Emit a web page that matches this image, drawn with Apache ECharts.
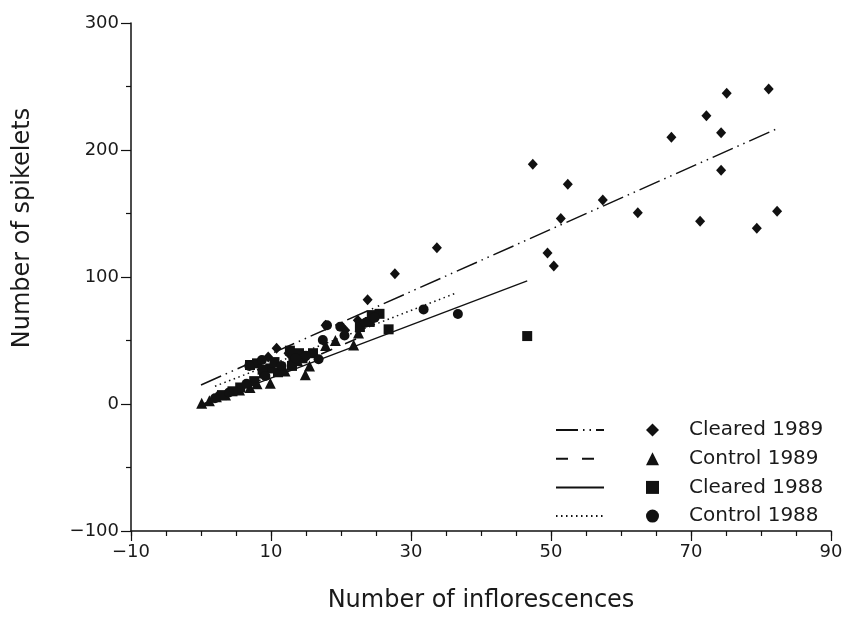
<!DOCTYPE html>
<html>
<head>
<meta charset="utf-8">
<script src="https://cdn.jsdelivr.net/npm/echarts@6/dist/echarts.min.js"></script>
<style>
  html, body { margin: 0; padding: 0; background: #fff; }
  #chart { width: 847px; height: 619px; }
</style>
</head>
<body>
<div id="chart"></div>
<script>
// Spikelets vs inflorescences, two treatments over two seasons
const cleared1989 = [
  [81.1, 248], [75.1, 244.6], [72.2, 227], [74.3, 213.6], [67.2, 210], [74.3, 184],
  [47.4, 188.7], [52.4, 173], [57.4, 160.6], [51.4, 146], [62.4, 150.6], [71.3, 143.8],
  [82.3, 151.7], [79.4, 138.3], [49.5, 118.9], [50.4, 108.7], [33.7, 123], [27.7, 102.6],
  [23.8, 82], [10.8, 43.8], [17.8, 62], [20.6, 58], [12.5, 40], [9.6, 37], [22.4, 66]
];
const control1989 = [
  [0.1, 0.5], [1.2, 2.5], [2.2, 5.7], [3.5, 7], [5.5, 11], [7, 13], [8, 16], [9.9, 16.3],
  [12, 26], [14.9, 23], [15.5, 30], [13.8, 34], [17.8, 46], [19.2, 50], [21.8, 46.5], [22.5, 56]
];
const cleared1988 = [
  [46.6, 53.5], [26.8, 58.8], [7, 30.7], [8, 32], [9.9, 28], [12.7, 42], [13.2, 37],
  [14.5, 36], [13, 30], [10.5, 33], [22.7, 60.6], [24.1, 64.6], [24.4, 70], [25.5, 71],
  [5.6, 13], [7.6, 18], [9, 24], [3, 7], [4.5, 10], [16, 40], [11, 25], [14, 40], [8.8, 27]
];
const control1988 = [
  [31.8, 74.5], [36.7, 70.9], [8.7, 34.6], [16.8, 35.2], [19.9, 60.9], [18, 62], [17.4, 50.4],
  [6.5, 16], [4, 9], [2, 4.5], [9.2, 22], [11.5, 30], [13.5, 36], [15, 38], [20.5, 54],
  [23.5, 64], [24.8, 68], [6.9, 30]
];

// Fitted regression lines (end points)
const fitCleared1989 = [[0, 15], [82.1, 216.3]];
const fitControl1989 = [[0.1, -1], [22.5, 52]];
const fitCleared1988 = [[0, -0.5], [46.6, 97]];
const fitControl1988 = [[2, 14], [36.5, 87.5]];

const groupNames = ['Cleared 1989', 'Control 1989', 'Cleared 1988', 'Control 1988'];
const fitNames = ['Cleared 1989 fit', 'Control 1989 fit', 'Cleared 1988 fit', 'Control 1988 fit'];

const xLabelValues = [-10, 10, 30, 50, 70, 90];
const yLabelValues = [-100, 0, 100, 200, 300];

const FONT = 'DejaVu Sans';
const INK = '#111';
const TEXT = '#1a1a1a';
const fmtNeg = v => (v < 0 ? '\u2212' + Math.abs(v) : String(v));

const chart = echarts.init(document.getElementById('chart'), null, { renderer: 'canvas' });

const fitLine = (name, data, type, width) => ({
  name, type: 'line', data, symbol: 'none', silent: true, z: 1,
  itemStyle: { color: INK },
  lineStyle: { color: INK, width, type }
});
const scatter = (name, data, symbol, size) => ({
  name, type: 'scatter', data, symbol, symbolSize: size, z: 3,
  itemStyle: { color: INK, opacity: 1 }
});

chart.setOption({
  animation: false,
  backgroundColor: '#fff',
  grid: { left: 131, right: 16, top: 23, bottom: 88, containLabel: false },
  xAxis: [
    {
      type: 'value', min: -10, max: 90, interval: 5, position: 'bottom',
      axisLine: { onZero: false, lineStyle: { color: INK, width: 1.5 } },
      axisTick: { length: 5, lineStyle: { color: INK, width: 1.2 } },
      axisLabel: {
        customValues: xLabelValues, formatter: fmtNeg, margin: 12,
        fontSize: 18, color: TEXT, fontFamily: FONT
      },
      splitLine: { show: false },
      name: 'Number of inflorescences', nameLocation: 'middle', nameGap: 58,
      nameTextStyle: { fontSize: 24, color: TEXT, fontFamily: FONT }
    },
    {
      type: 'value', min: -10, max: 90, position: 'bottom', offset: 0,
      axisLine: { show: false, onZero: false },
      axisTick: { customValues: xLabelValues, length: 10, lineStyle: { color: INK, width: 1.2 } },
      axisLabel: { show: false },
      splitLine: { show: false }
    }
  ],
  yAxis: {
    type: 'value', min: -100, max: 300, interval: 100,
    axisLine: { show: true, onZero: false, lineStyle: { color: INK, width: 1.5 } },
    axisTick: { show: true, length: 10, lineStyle: { color: INK, width: 1.2 } },
    minorTick: { show: true, splitNumber: 2, length: 5, lineStyle: { color: INK, width: 1.2 } },
    axisLabel: {
      customValues: yLabelValues, formatter: fmtNeg, margin: 12,
      fontSize: 18, color: TEXT, fontFamily: FONT
    },
    splitLine: { show: false },
    name: 'Number of spikelets', nameLocation: 'middle', nameGap: 96, nameRotate: 90,
    nameTextStyle: { fontSize: 24, color: TEXT, fontFamily: FONT, padding: [0, 0, 0, 98] }
  },
  legend: [
    {
      data: fitNames, orient: 'vertical', left: 555, top: 420, padding: 0,
      itemWidth: 48, itemHeight: 13, itemGap: 8.7, selectedMode: false,
      itemStyle: { opacity: 0 },
      formatter: () => ' ',
      textStyle: { fontSize: 20, lineHeight: 20, fontFamily: FONT }
    },
    {
      data: groupNames, orient: 'vertical', left: 646, top: 420, padding: 0,
      itemWidth: 13, itemHeight: 13, itemGap: 8.7, selectedMode: false,
      textStyle: {
        fontSize: 20, lineHeight: 20, color: TEXT, fontFamily: FONT,
        padding: [0, 0, 0, 25]
      }
    }
  ],
  series: [
    fitLine(fitNames[0], fitCleared1989, [22, 5, 1.5, 5, 1.5, 5], 1.5),
    fitLine(fitNames[1], fitControl1989, [12, 14], 1.5),
    fitLine(fitNames[2], fitCleared1988, 'solid', 1.3),
    fitLine(fitNames[3], fitControl1988, [1.5, 3.5], 1.5),
    scatter(groupNames[0], cleared1989, 'diamond', [10, 11]),
    scatter(groupNames[1], control1989, 'triangle', 11),
    scatter(groupNames[2], cleared1988, 'rect', 10),
    scatter(groupNames[3], control1988, 'circle', 10)
  ]
});
</script>
</body>
</html>
